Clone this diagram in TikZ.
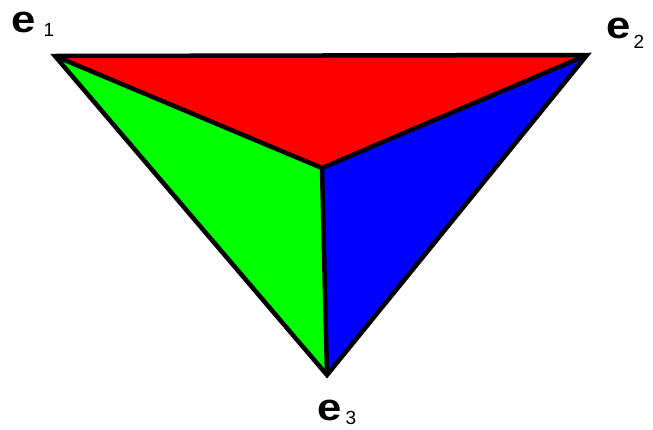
\documentclass[tikz,border=0pt]{standalone}
\usepackage{fontspec}
\setmainfont{Liberation Sans}
\usetikzlibrary{positioning}
\tikzset{
  vlab/.style={inner sep=0pt, xscale=1.15, font=\fontsize{38}{38}\selectfont\bfseries},
  sublab/.style={inner sep=0pt, font=\fontsize{19}{19}\selectfont},
  edge/.style={line width=4.5pt}
}
\begin{document}
\begin{tikzpicture}[x=1pt,y=-1pt]
   \useasboundingbox (0,0) rectangle (653,429);
   \path
    (55,56) coordinate (v1)
    (587,55) coordinate (v2)
    (327,375) coordinate (v3)
    (322,168) coordinate (c)
    ;

    % three coloured faces
    \fill[red] (v1) -- (v2) -- (c) -- cycle;
    \fill[green] (v1) -- (c) -- (v3) -- cycle;
    \fill[blue] (v2) -- (c) -- (v3) -- cycle;

    % black edges
    \draw[edge] (v1) -- (v2) -- (v3) -- cycle;
    \draw[edge] (v1) -- (c) (v2) -- (c) (c) -- (v3);

    % vertex labels e_1, e_2, e_3
    \node[vlab] (e1) at (23.5,22.5) {e};
    \node[sublab] (s1) at (49,30) {1};
    \node[vlab] (e2) at (618.5,28.5) {e};
    \node[sublab] (s2) at (639,42) {2};
    \node[vlab] (e3) at (329.5,410) {e};
    \node[sublab] (s3) at (351,417.5) {3};

\end{tikzpicture}
\end{document}
